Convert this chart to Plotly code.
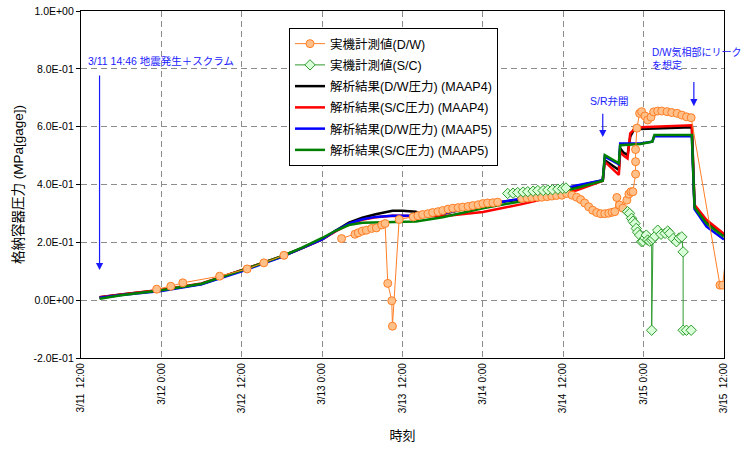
import pandas as pd
import plotly.graph_objects as go

# ---------------- data (hours since 2011-03-11 12:00, MPa[gage]) ----------------
BASE = "2011-03-11 12:00"

x_tick_labels = ["3/11\u00a0 12:00", "3/12 0:00", "3/12\u00a0 12:00", "3/13 0:00", "3/13\u00a0 12:00",
                 "3/14 0:00", "3/14\u00a0 12:00", "3/15 0:00", "3/15\u00a0 12:00"]
x_tick_hours = [0, 12, 24, 36, 48, 60, 72, 84, 96]
y_tick_vals = [-0.2, 0.0, 0.2, 0.4, 0.6, 0.8, 1.0]
y_tick_labels = ["-2.0E-01", "0.0E+00", "2.0E-01", "4.0E-01", "6.0E-01", "8.0E-01", "1.0E+00"]

# measured D/W (None = gap in the record)
dw_meas_h = [11.3, 13.4, 15.2, 20.7, 24.8, 27.3, 30.3, None,
             38.9, 40.9, 41.4, 42.0, 42.6, 43.4, 44.1, 44.9, 45.4, 45.8, 46.4, 46.5, 47.5,
             49.6, 50.3, 51.0, 51.8, 52.5, 53.3, 54.0, 54.8, 55.5, 56.3, 57.0, 57.8, 58.5,
             59.3, 60.0, 60.7, 61.5, 62.2, None,
             65.8, 66.6, 67.3, 68.1, 68.8, 69.6, 70.3, 71.0, 71.8, 72.5, 73.3, 74.0, 74.6,
             75.2, 75.8, 76.4, 77.0, 77.6, 78.2, 78.8, 79.3, 79.7, 80.0, 80.4, 80.9, 81.5,
             81.8, 82.1, 82.4, 82.8, 82.8, 82.8, 83.0, 83.4, 83.7, 84.2, 84.6, 85.1, 85.5,
             86.1, 86.7, 87.5, 88.2, 89.0, 89.7, 90.4, 91.1, 95.4, 95.8, 96.6]
dw_meas_p = [0.038, 0.048, 0.060, 0.083, 0.108, 0.129, 0.155, None,
             0.213, 0.228, 0.233, 0.239, 0.242, 0.248, 0.250, 0.260, 0.265, 0.058, -0.002, -0.090, 0.279,
             0.288, 0.292, 0.296, 0.299, 0.303, 0.306, 0.310, 0.315, 0.318, 0.320, 0.322, 0.324, 0.327,
             0.330, 0.334, 0.336, 0.337, 0.339, None,
             0.352, 0.353, 0.355, 0.356, 0.356, 0.358, 0.360, 0.362, 0.363, 0.369, 0.363, 0.356, 0.348,
             0.336, 0.323, 0.311, 0.303, 0.299, 0.299, 0.301, 0.304, 0.306, 0.355, 0.329, 0.318, 0.346,
             0.367, 0.375, 0.375, 0.436, 0.479, 0.521, 0.595, 0.646, 0.652, 0.637, 0.623, 0.633, 0.651,
             0.654, 0.654, 0.652, 0.649, 0.646, 0.640, 0.634, 0.631, 0.052, 0.052, 0.22]

# measured S/C
sc_meas_h = [63.7, 64.5, 65.2, 66.0, 66.7, 67.5, 68.2, 69.0, 69.7, 70.4, 71.2, 71.9, 72.4, None,
             81.6, 81.9, 82.2, 82.4, 82.7, 82.9, 83.1, 83.4, 83.7, 83.9, 84.2, 84.4, 84.6, 84.9,
             85.2, 85.2, 85.4, 85.7, 86.1, 86.6, 87.2, 87.6, 87.9, 88.4, 88.9, 89.3, 89.7, 89.9,
             89.9, 90.4, 91.1]
sc_meas_p = [0.369, 0.370, 0.372, 0.374, 0.375, 0.377, 0.379, 0.379, 0.381, 0.382, 0.384, 0.386, 0.388, None,
             0.306, 0.300, 0.283, 0.273, 0.265, 0.248, 0.235, 0.225, 0.202, 0.204, 0.215, 0.225, 0.208, 0.204,
             0.208, -0.104, 0.213, 0.221, 0.242, 0.228, 0.231, 0.239, 0.231, 0.213, 0.202, 0.215, 0.219, 0.167,
             -0.104, -0.104, -0.104]

# MAAP4 D/W
m4_dw_h = [2.77, 6, 12, 18, 24, 30, 33, 36, 38, 40, 42, 44, 46.5, 48, 50, 50.8, 54, 60, 66, 70, 74,
           77.9, 78.2, 80.3, 80.5, 81.0, 81.6, 82.0, 82.5, 83.5, 91.2, 91.6, 93.4, 96.0]
m4_dw_p = [0.010, 0.020, 0.035, 0.056, 0.104, 0.151, 0.180, 0.210, 0.240, 0.268, 0.285, 0.297, 0.309,
           0.309, 0.306, 0.296, 0.298, 0.330, 0.350, 0.370, 0.394, 0.415, 0.484, 0.450, 0.525, 0.510,
           0.502, 0.565, 0.588, 0.592, 0.598, 0.325, 0.272, 0.225]

# MAAP4 S/C
m4_sc_h = [2.77, 6, 12, 18, 24, 30, 33, 36, 38, 40, 42, 44, 46.5, 50, 54, 60, 66, 70, 74, 77.9,
           78.2, 80.3, 80.5, 81.0, 81.6, 82.0, 82.5, 83.5, 91.2, 91.6, 93.4, 96.0]
m4_sc_p = [0.010, 0.020, 0.036, 0.058, 0.104, 0.152, 0.180, 0.210, 0.238, 0.262, 0.278, 0.287, 0.292,
           0.292, 0.290, 0.305, 0.333, 0.355, 0.380, 0.413, 0.479, 0.433, 0.513, 0.500, 0.490, 0.577,
           0.588, 0.598, 0.605, 0.330, 0.277, 0.229]

# MAAP5 D/W
m5_dw_h = [2.77, 6, 12, 18, 24, 30, 33, 36, 38, 40, 42, 44, 46.5, 50, 54, 60, 66, 70, 74, 77.9,
           78.2, 80.3, 80.5, 83.5, 85.3, 85.6, 91.2, 91.6, 93.4, 96.0]
m5_dw_p = [0.008, 0.018, 0.032, 0.055, 0.100, 0.150, 0.180, 0.210, 0.240, 0.265, 0.280, 0.288, 0.292,
           0.293, 0.300, 0.330, 0.352, 0.375, 0.397, 0.415, 0.496, 0.470, 0.542, 0.542, 0.548, 0.567,
           0.567, 0.315, 0.254, 0.210]

# MAAP5 S/C
m5_sc_h = [2.77, 6, 12, 18, 24, 30, 33, 36, 38, 40, 42, 46.5, 50, 54, 60, 66, 70, 74, 77.9,
           78.2, 80.3, 80.5, 83.5, 85.3, 85.6, 91.2, 91.6, 93.4, 96.0]
m5_sc_p = [0.005, 0.017, 0.034, 0.057, 0.103, 0.152, 0.182, 0.215, 0.240, 0.260, 0.268, 0.270,
           0.272, 0.287, 0.318, 0.343, 0.365, 0.388, 0.413, 0.502, 0.473, 0.536, 0.540, 0.548, 0.571,
           0.571, 0.320, 0.265, 0.219]

series_names = ["実機計測値(D/W)", "実機計測値(S/C)",
                "解析結果(D/W圧力) (MAAP4)", "解析結果(S/C圧力) (MAAP4)",
                "解析結果(D/W圧力) (MAAP5)", "解析結果(S/C圧力) (MAAP5)"]


def t(hours):
    return [None if h is None else pd.Timestamp(BASE) + pd.Timedelta(hours=h) for h in hours]


FONT = "Liberation Sans, Arial, Noto Sans CJK JP, sans-serif"

fig = go.Figure()

# analysis lines
for h, p, name, color, rank in [
    (m4_dw_h, m4_dw_p, series_names[2], "#000000", 3),
    (m4_sc_h, m4_sc_p, series_names[3], "#FF0000", 4),
    (m5_dw_h, m5_dw_p, series_names[4], "#0000FF", 5),
    (m5_sc_h, m5_sc_p, series_names[5], "#008000", 6),
]:
    fig.add_trace(go.Scatter(x=t(h), y=p, mode="lines", name=name, legendrank=rank,
                             legendgroup=name,
                             line=dict(color=color, width=2.5)))

# measured
fig.add_trace(go.Scatter(x=t(dw_meas_h), y=dw_meas_p, mode="lines+markers", name=series_names[0],
                         legendrank=1, legendgroup=series_names[0], connectgaps=False,
                         line=dict(color="#FF7F27", width=1),
                         marker=dict(symbol="circle", size=8, color="#FFC08A",
                                     line=dict(color="#FF7F27", width=1))))
fig.add_trace(go.Scatter(x=t(sc_meas_h), y=sc_meas_p, mode="lines+markers", name=series_names[1],
                         legendrank=2, legendgroup=series_names[1], connectgaps=False,
                         line=dict(color="#2E9B2E", width=1),
                         marker=dict(symbol="diamond", size=8, color="#D8FFD8",
                                     line=dict(color="#2E9B2E", width=1))))

tick_times = t(x_tick_hours)

fig.update_layout(
    width=745, height=449,
    margin=dict(l=81, r=21, t=11, b=91),
    paper_bgcolor="white", plot_bgcolor="white",
    font=dict(family=FONT, size=11, color="#000000"),
    showlegend=True,
    legend=dict(x=0.3235, y=0.951, xanchor="left", yanchor="top",
                bgcolor="white", bordercolor="#000000", borderwidth=1,
                font=dict(size=12.5), tracegroupgap=2, traceorder="grouped",
                entrywidth=185, entrywidthmode="pixels"),
    xaxis=dict(range=[tick_times[0], tick_times[-1]], tickmode="array",
               tickvals=tick_times, ticktext=x_tick_labels, tickangle=-90,
               tickfont=dict(size=10),
               showgrid=True, gridcolor="#8C8C8C", griddash="6px,4px", gridwidth=1,
               showline=True, linecolor="#000000", linewidth=1.2, mirror=True,
               ticks="", zeroline=False, automargin=False,
               title=dict(text="時刻", font=dict(size=13), standoff=18)),
    yaxis=dict(range=[-0.2, 1.0], tickmode="array", tickvals=y_tick_vals,
               ticktext=y_tick_labels, automargin=False, tickfont=dict(size=10.5),
               showgrid=True, gridcolor="#8C8C8C", griddash="6px,4px", gridwidth=1,
               showline=True, linecolor="#000000", linewidth=1.2, mirror=True,
               ticks="outside", ticklen=4, tickcolor="#000000", zeroline=False,
               title=dict(text="格納容器圧力 (MPa[gage])", font=dict(size=13.5), standoff=6)),
)

blue = "#1a1aff"


def px_to_paper(px, py):
    return (px - 81) / 643.0, (358 - py) / 347.0


# text annotations
for text, px, py, fs in [("3/11 14:46 地震発生＋スクラム", 86, 61, 10.5),
                         ("S/R弁開", 588, 101, 10.5),
                         ("D/W気相部にリーク<br>を想定", 650, 59, 10)]:
    xp, yp = px_to_paper(px, py)
    fig.add_annotation(xref="paper", yref="paper", x=xp, y=yp, text=text, showarrow=False,
                       xanchor="left", yanchor="middle", align="left",
                       font=dict(family=FONT, size=fs, color=blue))

# arrows (data coordinates)
for h, p_tail, p_tip in [(2.77, 0.782, 0.104), (77.9, 0.650, 0.564), (91.5, 0.760, 0.671)]:
    tt = pd.Timestamp(BASE) + pd.Timedelta(hours=h)
    fig.add_annotation(x=tt, y=p_tip, ax=tt, ay=p_tail, axref="x", ayref="y",
                       xref="x", yref="y", text="", showarrow=True,
                       arrowhead=2, arrowsize=1.2, arrowwidth=1.2, arrowcolor=blue)

fig.write_html("out.html", config={"displayModeBar": False},
               post_script="document.body.style.margin='0';")
